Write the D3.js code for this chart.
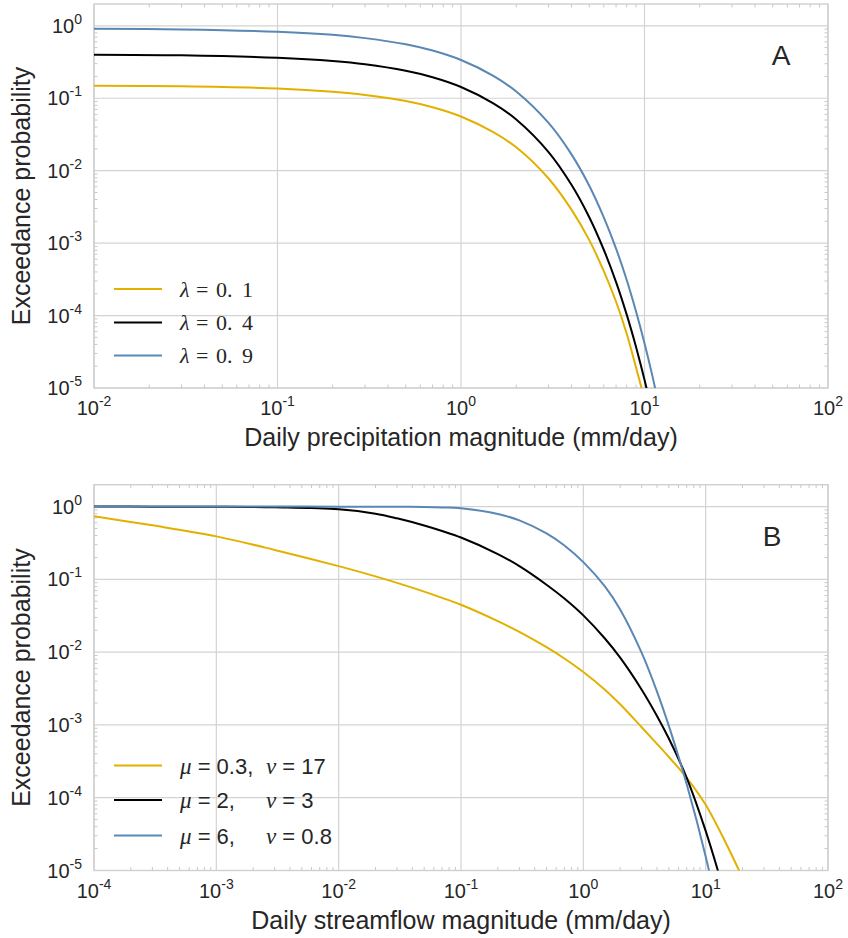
<!DOCTYPE html>
<html>
<head>
<meta charset="utf-8">
<script src="https://cdn.jsdelivr.net/npm/d3@7"></script>
<style>
	body { margin: 0; background: #fff; }
	svg text { fill: #262626; font-family: "Liberation Sans", Arial, sans-serif; }
	.grid line { stroke: #d3d3d3; stroke-width: 1.2; }
	.spine { fill: none; stroke: #cfcfcf; stroke-width: 1.4; }
	.minor { stroke: #c8c8c8; stroke-width: 1; }
	.math { font-family: "Liberation Serif", "DejaVu Serif", serif; font-style: italic; }
</style>
</head>
<body>
<svg id="chart" width="848" height="938"></svg>
<script>
;(() => {
	'use strict';

	// panel A : daily precipitation
	const precipX = [0.01, 0.03, 0.1, 0.2, 0.3, 0.5, 0.7, 1, 1.5, 2, 3, 4, 5, 6, 7, 8, 9, 10, 11, 12];
	const precipLam01 = [0.149, 0.146, 0.136, 0.1227, 0.111, 0.0915, 0.0752, 0.056, 0.034, 0.021, 0.0078, 0.0029, 0.0011, 0.00041, 0.000155, 0.000056, 0.000019, 0.000007, 0.0000026, 0.000001];
	const precipLam04 = [0.40, 0.392, 0.362, 0.326, 0.294, 0.239, 0.195, 0.143, 0.085, 0.051, 0.0181, 0.0064, 0.00228, 0.00081, 0.00029, 0.000103, 0.0000366, 0.000013, 0.0000046, 0.0000016];
	const precipLam09 = [0.91, 0.89, 0.826, 0.75, 0.676, 0.556, 0.455, 0.337, 0.204, 0.124, 0.0456, 0.0168, 0.0062, 0.00227, 0.00084, 0.00031, 0.000113, 0.0000416, 0.0000153, 0.0000056];

	// panel B : daily streamflow
	const flowX = [0.0001, 0.0003, 0.001, 0.003, 0.01, 0.02, 0.03, 0.05, 0.07, 0.1, 0.2, 0.3, 0.5, 0.7, 1, 1.5, 2, 3, 4, 5, 7, 10, 15, 20];
	const flowMu03 = [0.736, 0.553, 0.39, 0.254, 0.152, 0.110, 0.0895, 0.0679, 0.0558, 0.0448, 0.0267, 0.019, 0.0117, 0.00818, 0.00533, 0.00305, 0.00192, 0.00093, 0.00055, 0.000363, 0.000188, 0.00008, 0.0000219, 0.0000079];
	const flowMu2 = [1.0, 0.999, 0.995, 0.977, 0.918, 0.80, 0.69, 0.55, 0.462, 0.376, 0.223, 0.152, 0.0845, 0.0546, 0.032, 0.0154, 0.0084, 0.00305, 0.00133, 0.00065, 0.000188, 0.000035, 0.0000036, 0.0000006];
	const flowMu6 = [1.0, 1.0, 1.0, 1.0, 0.999, 0.998, 0.995, 0.989, 0.975, 0.946, 0.792, 0.646, 0.428, 0.292, 0.1726, 0.080, 0.0386, 0.00975, 0.00287, 0.00097, 0.000153, 0.0000156, 0.00000069, 0.000000048];

	const seriesColors = ['#e2b100', '#000000', '#5a87b3'];
	const precipLabels = [['0.', '1'], ['0.', '4'], ['0.', '9']];
	const flowMuLabels = ['0.3,', '2,', '6,'];
	const flowNuLabels = ['17', '3', '0.8'];

	const svg = d3.select('#chart');

	const panels = [
		{
			id: 'a', letter: 'A', top: 4, bottom: 388, xDomain: [1e-2, 1e2],
			xLabel: 'Daily precipitation magnitude (mm/day)',
			xs: precipX, series: [precipLam01, precipLam04, precipLam09],
			letterPos: [781, 65], legendY: [289, 322.5, 355.5]
		},
		{
			id: 'b', letter: 'B', top: 484.7, bottom: 870.5, xDomain: [1e-4, 1e2],
			xLabel: 'Daily streamflow magnitude (mm/day)',
			xs: flowX, series: [flowMu03, flowMu2, flowMu6],
			letterPos: [772, 545.5], legendY: [765.5, 800, 835.5]
		}
	];

	const left = 94,
		right = 828;

	/**
	* write 10^k as text with a raised exponent
	*/
	const powerLabel = function(sel, k) {
		sel.append('tspan').text('10');
		sel.append('tspan')
			.attr('dy', -9)
			.style('font-size', '14px')
			.text(k);
	};

	/**
	* minor log ticks (2..9 x 10^k) inside the domain
	*/
	const minorValues = function(domain) {
		const out = [];
		const lo = Math.round(Math.log10(domain[0])),
			hi = Math.ceil(Math.log10(domain[1]));
		for (let k = lo; k < hi; k++) {
			for (let m = 2; m <= 9; m++) {
				const v = m * Math.pow(10, k);
				if (v > domain[0] && v < domain[1]) out.push(v);
			}
		}
		return out;
	};

	const drawPanel = function(p) {
		const x = d3.scaleLog().domain(p.xDomain).range([left, right]),
			y = d3.scaleLog().domain([1e-5, 2]).range([p.bottom, p.top]);

		const xMajor = d3.range(Math.log10(p.xDomain[0]), Math.log10(p.xDomain[1]) + 1).map((k) => Math.pow(10, k)),
			yMajor = d3.range(-5, 1).map((k) => Math.pow(10, k));

		const g = svg.append('g');

		svg.append('clipPath').attr('id', 'clip-' + p.id)
			.append('rect')
			.attr('x', left).attr('y', p.top)
			.attr('width', right - left).attr('height', p.bottom - p.top);

		// grid
		const grid = g.append('g').attr('class', 'grid');
		grid.selectAll('.gx').data(xMajor).enter().append('line')
			.attr('x1', (d) => x(d)).attr('x2', (d) => x(d))
			.attr('y1', p.top).attr('y2', p.bottom);
		grid.selectAll('.gy').data(yMajor).enter().append('line')
			.attr('x1', left).attr('x2', right)
			.attr('y1', (d) => y(d)).attr('y2', (d) => y(d));

		// minor ticks on all four sides, pointing inward
		const tl = 3.5,
			minor = g.append('g');
		minorValues(p.xDomain).forEach((v) => {
			minor.append('line').attr('class', 'minor')
				.attr('x1', x(v)).attr('x2', x(v)).attr('y1', p.bottom).attr('y2', p.bottom - tl);
			minor.append('line').attr('class', 'minor')
				.attr('x1', x(v)).attr('x2', x(v)).attr('y1', p.top).attr('y2', p.top + tl);
		});
		minorValues([1e-5, 2]).forEach((v) => {
			minor.append('line').attr('class', 'minor')
				.attr('x1', left).attr('x2', left + tl).attr('y1', y(v)).attr('y2', y(v));
			minor.append('line').attr('class', 'minor')
				.attr('x1', right).attr('x2', right - tl).attr('y1', y(v)).attr('y2', y(v));
		});

		g.append('rect').attr('class', 'spine')
			.attr('x', left).attr('y', p.top)
			.attr('width', right - left).attr('height', p.bottom - p.top);

		// curves
		const line = d3.line()
			.x((d) => x(d[0]))
			.y((d) => y(d[1]))
			.curve(d3.curveCatmullRom.alpha(0.5));

		const curves = g.append('g').attr('clip-path', 'url(#clip-' + p.id + ')');
		p.series.forEach((vals, i) => {
			curves.append('path')
				.datum(p.xs.map((xv, j) => [xv, vals[j]]))
				.attr('fill', 'none')
				.attr('stroke', seriesColors[i])
				.attr('stroke-width', 2)
				.attr('d', line);
		});

		// tick labels
		xMajor.forEach((v) => {
			const t = g.append('text')
				.attr('x', x(v)).attr('y', p.bottom + 27)
				.attr('text-anchor', 'middle')
				.style('font-size', '20px');
			powerLabel(t, String(Math.round(Math.log10(v))));
		});
		yMajor.forEach((v) => {
			const t = g.append('text')
				.attr('x', 82).attr('y', y(v) + 7)
				.attr('text-anchor', 'end')
				.style('font-size', '20px');
			powerLabel(t, String(Math.round(Math.log10(v))));
		});

		// axis titles
		g.append('text')
			.attr('x', (left + right) / 2).attr('y', p.bottom + 58)
			.attr('text-anchor', 'middle')
			.style('font-size', '25px')
			.text(p.xLabel);
		g.append('text')
			.attr('transform', 'translate(30,' + (p.top + p.bottom) / 2 + ') rotate(-90)')
			.attr('text-anchor', 'middle')
			.style('font-size', '25px')
			.text('Exceedance probability');

		g.append('text')
			.attr('x', p.letterPos[0]).attr('y', p.letterPos[1])
			.attr('text-anchor', 'middle')
			.style('font-size', '28px')
			.text(p.letter);

		// legend
		p.legendY.forEach((ly, i) => {
			g.append('line')
				.attr('x1', 114).attr('x2', 162)
				.attr('y1', ly).attr('y2', ly)
				.attr('stroke', seriesColors[i])
				.attr('stroke-width', 2);

			if (p.id === 'a') {
				const t = g.append('text')
					.attr('y', ly + 7.5)
					.style('font-size', '22px')
					.style('font-family', '"Liberation Serif", "DejaVu Serif", serif');
				t.append('tspan').attr('class', 'math').attr('x', 180).text('λ');
				t.append('tspan').attr('x', 196).text('=');
				t.append('tspan').attr('x', 216).text(precipLabels[i][0]);
				t.append('tspan').attr('x', 242).text(precipLabels[i][1]);
			} else {
				const t = g.append('text')
					.attr('x', 180).attr('y', ly + 8)
					.style('font-size', '22px');
				t.append('tspan').attr('class', 'math').style('font-size', '23px').text('μ');
				t.append('tspan').text(' = ' + flowMuLabels[i]);
				const n = g.append('text')
					.attr('x', 266).attr('y', ly + 8)
					.style('font-size', '22px');
				n.append('tspan').attr('class', 'math').style('font-size', '23px').text('ν');
				n.append('tspan').text(' = ' + flowNuLabels[i]);
			}
		});
	};

	panels.forEach(drawPanel);

})();
</script>
</body>
</html>
